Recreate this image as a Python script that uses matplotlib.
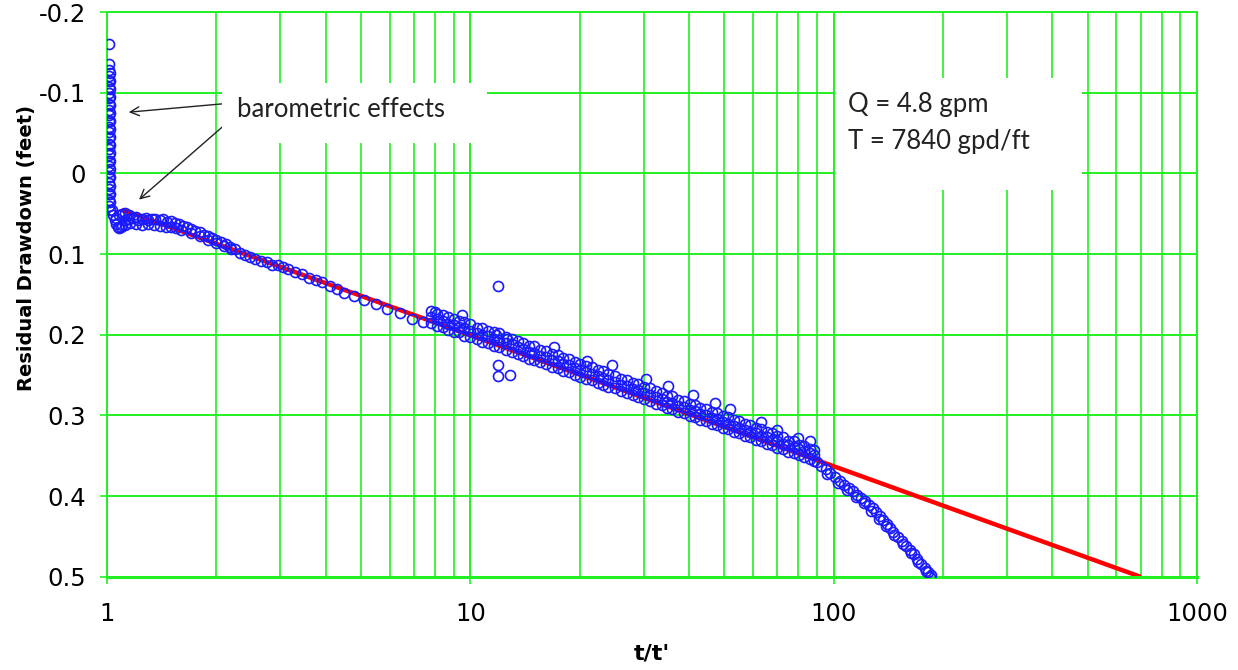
import matplotlib
matplotlib.use("Agg")
import matplotlib.pyplot as plt
from matplotlib.patches import Rectangle

# recovery data (t/t' vs residual drawdown)
spike_x = [1.012] * 27 + [1.022] * 18
spike_y = [-0.160, -0.136, -0.128, -0.121, -0.114, -0.107, -0.100, -0.093, -0.086,
           -0.079, -0.072, -0.065, -0.058, -0.051, -0.044, -0.037, -0.030, -0.023,
           -0.016, -0.009, -0.002, 0.005, 0.012, 0.019, 0.026, 0.033, 0.040,
           -0.125, -0.115, -0.105, -0.095, -0.085, -0.075, -0.065, -0.055, -0.045,
           -0.035, -0.025, -0.015, -0.005, 0.005, 0.015, 0.025, 0.035, 0.045]

early_x = [1.03, 1.04, 1.05, 1.06, 1.07, 1.08, 1.09, 1.10, 1.06, 1.08, 1.10, 1.12, 1.14,
           1.12, 1.15, 1.18, 1.20, 1.22, 1.25, 1.28, 1.30, 1.33, 1.36, 1.40, 1.43, 1.46,
           1.50, 1.54, 1.58, 1.62, 1.66, 1.70, 1.75, 1.80, 1.85, 1.90, 1.95, 2.00, 2.06,
           2.12, 2.18, 2.25, 2.32, 2.40, 2.48, 2.56, 2.65, 2.75, 2.85, 2.95, 3.05, 3.15,
           3.30, 3.45, 3.60, 3.75, 3.90, 4.10, 4.30, 4.50, 4.80, 5.10, 5.50, 5.90, 6.40,
           6.90, 7.40,
           1.12, 1.16, 1.20, 1.25, 1.30, 1.35, 1.40, 1.45, 1.50, 1.55, 1.60, 1.70, 1.80,
           1.90, 2.00, 2.10, 2.20]
early_y = [0.045, 0.052, 0.058, 0.063, 0.067, 0.068, 0.066, 0.064, 0.055, 0.052, 0.050,
           0.058, 0.056, 0.049, 0.052, 0.055, 0.054, 0.058, 0.056, 0.055, 0.058, 0.056,
           0.057, 0.058, 0.057, 0.060, 0.059, 0.062, 0.063, 0.065, 0.067, 0.069, 0.071,
           0.073, 0.076, 0.078, 0.080, 0.082, 0.085, 0.088, 0.091, 0.094, 0.098, 0.101,
           0.104, 0.106, 0.108, 0.110, 0.113, 0.114, 0.116, 0.119, 0.122, 0.125, 0.130,
           0.132, 0.134, 0.140, 0.143, 0.148, 0.152, 0.157, 0.162, 0.168, 0.173, 0.180,
           0.184,
           0.064, 0.062, 0.063, 0.064, 0.063, 0.064, 0.065, 0.066, 0.066, 0.068, 0.070,
           0.074, 0.078, 0.082, 0.086, 0.090, 0.094]

band_x = [7.8, 8.1, 8.4, 8.7, 9.0, 9.3, 9.6, 10.0, 10.4, 10.8, 11.2, 11.6, 12.0, 12.5,
          13.0, 13.5, 14.0, 14.5, 15.0, 15.6, 16.2, 16.8, 17.4, 18.0, 18.7, 19.4, 20.1,
          20.8, 21.6, 22.4, 23.2, 24.0, 25.0, 26.0, 27.0, 28.0, 29.0, 30.0, 31.2, 32.4,
          33.6, 34.8, 36.0, 37.4, 38.8, 40.2, 41.6, 43.0, 44.6, 46.2, 47.8, 49.5, 51.3,
          53.1, 55.0, 57.0, 59.0, 61.0, 63.2, 65.4, 67.7, 70.0, 72.5, 75.0, 77.6, 80.3,
          83.0, 85.8, 88.5]
band_top = [0.170, 0.174, 0.175, 0.178, 0.180, 0.183, 0.184, 0.187, 0.191, 0.191, 0.195,
            0.197, 0.198, 0.203, 0.205, 0.208, 0.210, 0.214, 0.214, 0.219, 0.220, 0.224,
            0.225, 0.229, 0.230, 0.234, 0.236, 0.239, 0.240, 0.244, 0.245, 0.249, 0.251,
            0.255, 0.256, 0.260, 0.261, 0.265, 0.266, 0.270, 0.272, 0.276, 0.276, 0.281,
            0.282, 0.286, 0.287, 0.291, 0.292, 0.296, 0.297, 0.301, 0.302, 0.306, 0.307,
            0.311, 0.312, 0.316, 0.317, 0.321, 0.322, 0.326, 0.327, 0.331, 0.332, 0.336,
            0.338, 0.341, 0.343]
band_mid = [0.178, 0.181, 0.183, 0.186, 0.188, 0.190, 0.192, 0.195, 0.198, 0.200, 0.202,
            0.205, 0.207, 0.210, 0.212, 0.215, 0.218, 0.221, 0.222, 0.226, 0.228, 0.231,
            0.233, 0.236, 0.238, 0.241, 0.243, 0.246, 0.248, 0.251, 0.253, 0.256, 0.258,
            0.262, 0.264, 0.267, 0.269, 0.272, 0.274, 0.277, 0.280, 0.283, 0.284, 0.288,
            0.290, 0.293, 0.295, 0.298, 0.300, 0.303, 0.304, 0.308, 0.310, 0.313, 0.315,
            0.318, 0.320, 0.322, 0.325, 0.327, 0.330, 0.332, 0.335, 0.337, 0.339, 0.342,
            0.344, 0.347, 0.349]
band_bot = [0.185, 0.189, 0.190, 0.194, 0.196, 0.197, 0.201, 0.203, 0.205, 0.209, 0.210,
            0.214, 0.215, 0.219, 0.221, 0.224, 0.226, 0.230, 0.231, 0.234, 0.236, 0.240,
            0.241, 0.245, 0.246, 0.250, 0.252, 0.255, 0.256, 0.260, 0.262, 0.265, 0.266,
            0.270, 0.272, 0.275, 0.277, 0.280, 0.282, 0.286, 0.287, 0.291, 0.292, 0.296,
            0.297, 0.301, 0.302, 0.306, 0.307, 0.311, 0.312, 0.316, 0.317, 0.321, 0.322,
            0.326, 0.327, 0.330, 0.332, 0.335, 0.337, 0.340, 0.342, 0.345, 0.346, 0.349,
            0.351, 0.354, 0.356]

stray_x = [8.0, 9.5, 17.0, 21.0, 24.5, 30.5, 35.0, 41.0, 47.0, 52.0, 63.0, 70.0, 80.0,
           86.0, 11.9, 11.9, 12.9, 11.9, 11.8, 12.6]
stray_y = [0.172, 0.176, 0.215, 0.232, 0.238, 0.255, 0.263, 0.275, 0.285, 0.292, 0.308,
           0.318, 0.328, 0.332, 0.140, 0.251, 0.250, 0.237, 0.200, 0.205]

tail_x = [90, 92, 95, 98, 101, 104, 107, 110, 113, 116, 119, 122, 125, 128, 131, 134,
          137, 140, 143, 146, 150, 154, 158, 162, 166, 170, 174, 178, 182, 185,
          96, 103, 109, 115, 121, 127, 133, 139, 147, 155, 163, 171, 180, 184]
tail_y = [0.358, 0.362, 0.366, 0.371, 0.376, 0.381, 0.386, 0.390, 0.394, 0.398, 0.402,
          0.406, 0.411, 0.415, 0.420, 0.425, 0.430, 0.435, 0.440, 0.445, 0.450, 0.456,
          0.462, 0.467, 0.472, 0.478, 0.484, 0.489, 0.494, 0.498,
          0.372, 0.384, 0.392, 0.401, 0.409, 0.418, 0.428, 0.437, 0.448, 0.459, 0.470,
          0.481, 0.493, 0.500]

# straight-line fit (Cooper-Jacob)
fit_x = [1.1, 700]
fit_y = [0.045, 0.5]

green = '#22f022'
blue = '#1a1aff'

fig = plt.figure(figsize=(12.38, 6.70), dpi=100)
ax = fig.add_axes([0.0864, 0.139, 0.8805, 0.843])

ax.set_xscale('log')
ax.set_xlim(1, 1000)
ax.set_ylim(0.5, -0.2)

ax.grid(True, which='major', color=green, lw=1.4)
ax.grid(True, which='minor', axis='x', color=green, lw=1.2)
ax.set_axisbelow(True)
for s in ax.spines.values():
    s.set_color(green)
    s.set_linewidth(1.4)
ax.spines['bottom'].set_linewidth(2.2)

ax.plot(fit_x, fit_y, color='red', lw=3.2, zorder=2, solid_capstyle='butt')

mk = dict(ls='none', marker='o', ms=7.2, mfc='none', mec=blue, mew=1.2, zorder=3)
ax.plot(spike_x, spike_y, **mk)
ax.plot(early_x, early_y, **mk)
ax.plot(band_x, band_top, **mk)
ax.plot(band_x, band_mid, **mk)
ax.plot(band_x, band_bot, **mk)
ax.plot(stray_x, stray_y, **mk)
ax.plot(tail_x, tail_y, **mk)

ax.set_yticks([-0.2, -0.1, 0, 0.1, 0.2, 0.3, 0.4, 0.5])
ax.set_yticklabels(['-0.2', '-0.1', '0', '0.1', '0.2', '0.3', '0.4', '0.5'])
ax.set_xticks([1, 10, 100, 1000])
ax.set_xticklabels(['1', '10', '100', '1000'])
ax.tick_params(axis='both', which='major', color=green, width=1.2, length=5,
               labelsize=17.5, direction='out')
ax.tick_params(axis='x', which='major', pad=13)
ax.tick_params(axis='y', which='major', pad=10)
ax.tick_params(axis='x', which='minor', length=0)
for lab in ax.get_xticklabels() + ax.get_yticklabels():
    lab.set_fontfamily('DejaVu Sans')

ax.set_xlabel("t/t'", fontsize=16, fontweight='bold', family='DejaVu Sans')
ax.set_ylabel('Residual Drawdown (feet)', fontsize=14, fontweight='bold',
              family='DejaVu Sans')
ax.xaxis.set_label_coords(0.5, -0.118)
ax.yaxis.set_label_coords(-0.065, 0.582)

# arrows to the barometric part of the record
arr = dict(arrowstyle='->', color='#222222', lw=1.0, mutation_scale=16)
ax.annotate('', xy=(1.128, -0.0756), xytext=(2.3, -0.088), arrowprops=arr, zorder=1)
ax.annotate('', xy=(1.209, 0.0347), xytext=(2.3, -0.075), arrowprops=arr, zorder=1)

ax.add_patch(Rectangle((0.1055, 0.768), 0.2435, 0.106, transform=ax.transAxes,
                       facecolor='white', edgecolor='none', zorder=1.5))
ax.add_patch(Rectangle((0.668, 0.685), 0.2265, 0.198, transform=ax.transAxes,
                       facecolor='white', edgecolor='none', zorder=1.5))

ax.text(0.1193, 0.827, 'barometric effects', transform=ax.transAxes, fontsize=18.5,
        family='Lato', color='#222222', va='center', zorder=4)
ax.text(0.680, 0.837, 'Q = 4.8 gpm', transform=ax.transAxes, fontsize=18.5,
        family='Lato', color='#222222', va='center', zorder=4)
ax.text(0.680, 0.770, 'T = 7840 gpd/ft', transform=ax.transAxes, fontsize=18.5,
        family='Lato', color='#222222', va='center', zorder=4)

fig.savefig('out.png', dpi=100)
